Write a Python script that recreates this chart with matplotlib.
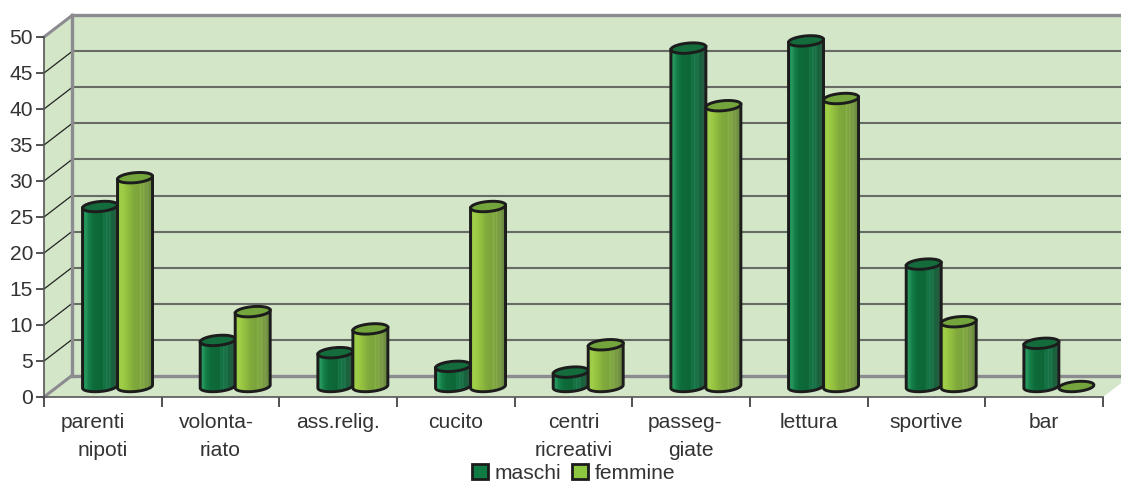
import matplotlib
matplotlib.use('Agg')
import matplotlib.pyplot as plt
import numpy as np
from matplotlib.colors import LinearSegmentedColormap
from matplotlib.patches import Patch, Polygon

plt.rcParams['font.family'] = ['Liberation Sans', 'DejaVu Sans']

line1 = ['parenti', 'volonta-', 'ass.relig.', 'cucito', 'centri', 'passeg-', 'lettura', 'sportive', 'bar']
line2 = ['nipoti', 'riato', '', '', 'ricreativi', 'giate', '', '', '']
maschi = [25, 6.4, 4.7, 2.8, 2, 47, 48, 17, 6]
femmine = [29, 10.4, 8, 25, 5.8, 39, 40, 9, 0]
yticks = [0, 5, 10, 15, 20, 25, 30, 35, 40, 45, 50]

W, H = 1121, 484
TXT = '#333333'
GREY = '#8b8b90'
WALL = '#d3e6c8'
FS = 15.1

# front plane of the 3d box, in pixels of the reference
fig = plt.figure(figsize=(W / 100, H / 100), dpi=100)
ax = fig.add_axes([44 / W, 1 - 397 / H, (1103 - 44) / W, 360 / H])
ax.set_xlim(0, 9)
ax.set_ylim(0, 50)
ax.patch.set_visible(False)
for s in ['top', 'right']:
    ax.spines[s].set_visible(False)
for s in ['left', 'bottom']:
    ax.spines[s].set_color('#555555')
    ax.spines[s].set_linewidth(1.2)
    ax.spines[s].set_zorder(3)

# depth of the box in axis units
px_x = 9 / 1059
px_y = 50 / 360
dx = 28 * px_x
dy = 21.5 * px_y
right = 9 + 30 * px_x

ax.add_patch(Polygon([(0, 0), (dx, dy), (right, dy), (right, 50 + dy), (dx, 50 + dy), (0, 50)],
                     closed=True, fc=WALL, ec='none', clip_on=False, zorder=0))
ax.add_patch(Polygon([(0, 0), (dx, dy), (9 + dx, dy), (9, 0)], closed=True, fc=WALL, ec='none',
                     clip_on=False, zorder=0))

for v in yticks:
    edge = v in (0, 50)
    c = GREY if edge else '#676b63'
    lw = 2.4 if edge else 1.5
    ax.plot([dx, right], [v + dy, v + dy], color=c, lw=lw, clip_on=False, zorder=1)
    ax.plot([0, dx], [v, v + dy], color=GREY if edge else '#222222', lw=2.2 if edge else 0.9,
            clip_on=False, zorder=1)
ax.plot([dx, dx], [dy, 50 + dy], color=GREY, lw=2.4, clip_on=False, zorder=1)

dark = LinearSegmentedColormap.from_list('dark', [
    (0, '#17824a'), (0.07, '#2a9c60'), (0.16, '#14804a'), (0.3, '#0e6c3a'), (0.55, '#0d6636'),
    (0.6, '#1a7a4a'), (0.64, '#0f6a3a'), (0.68, '#26845a'), (0.72, '#11683c'), (0.76, '#247a50'),
    (0.82, '#14633c'), (0.9, '#225f40'), (1, '#2a5a42')])
light = LinearSegmentedColormap.from_list('light', [
    (0, '#8fc440'), (0.1, '#a3d04a'), (0.25, '#93c23f'), (0.45, '#80aa3c'), (0.6, '#7ba53c'),
    (0.65, '#8bb24b'), (0.69, '#78a03c'), (0.74, '#8aad4e'), (0.79, '#76993f'), (0.84, '#7e9f4a'),
    (0.92, '#6c8c40'), (1, '#66863f')])
grad = np.linspace(0, 1, 128).reshape(1, -1)

bw = 35 * px_x
eh = 10 * px_y
tilt = 3 * px_y
ox = 14.7 * px_x
oy = 10.5 * px_y
OUTLINE = '#1c1c1c'
theta = np.linspace(0, 2 * np.pi, 73)


def cylinder(x0, value, cmap, top_color, z):
    xc = x0 + ox + bw / 2
    ex = xc + bw / 2 * np.cos(theta)
    ey = eh / 2 * np.sin(theta) + tilt * np.cos(theta) / 2
    if value > 0:
        lower = theta[36:73]
        bx = xc + bw / 2 * np.cos(lower)
        by = oy + eh / 2 * np.sin(lower) + tilt * np.cos(lower) / 2
        tx = [xc + bw / 2, xc - bw / 2]
        ty = [value + oy + tilt / 2, value + oy - tilt / 2]
        body = Polygon(np.column_stack([np.r_[bx, tx], np.r_[by, ty]]), closed=True, fc='none', ec=OUTLINE,
                       lw=2.1, clip_on=False, zorder=z + 0.1)
        im = ax.imshow(grad, cmap=cmap, extent=(xc - bw / 2, xc + bw / 2, oy - eh, value + oy + eh),
                       aspect='auto', zorder=z, interpolation='bilinear')
        ax.add_patch(body)
        im.set_clip_path(body)
    ax.add_patch(Polygon(np.column_stack([ex, value + oy + ey]), closed=True, fc=top_color, ec=OUTLINE, lw=2.1,
                         clip_on=False, zorder=z + 0.2))


for i in range(len(maschi)):
    center = i + 0.5
    cylinder(center - bw, maschi[i], dark, '#146b3b', 4)
    cylinder(center, femmine[i], light, '#74a53c', 5)

ax.set_xlim(0, 9)
ax.set_ylim(0, 50)

ax.set_yticks(yticks)
ax.set_xticks(range(10))
ax.set_xticklabels([])
ax.tick_params(axis='y', length=6, width=1.2, color='#333333', labelcolor=TXT, labelsize=FS, pad=2)
ax.tick_params(axis='x', length=7, width=1.2, color='#333333')

# the two-line labels are not centred on their slot in the original
nudge1 = [-10, -4, 0, 0, 0, -6, 0, 0, 0]
for i, (a, b) in enumerate(zip(line1, line2)):
    px = i + 0.5
    ax.annotate(a, (px, 0), xytext=(nudge1[i] * 0.72, -25.5 * 0.72), textcoords='offset points', ha='center',
                va='center', color=TXT, fontsize=FS, annotation_clip=False)
    ax.annotate(b, (px, 0), xytext=(0, -53 * 0.72), textcoords='offset points', ha='center', va='center',
                color=TXT, fontsize=FS, annotation_clip=False)

handles = [Patch(fc='#0f7a41', ec=OUTLINE, lw=2, label='maschi'),
           Patch(fc='#8cc63f', ec=OUTLINE, lw=2, label='femmine')]
leg = fig.legend(handles=handles, loc='lower center', bbox_to_anchor=(573.5 / W, -0.006), ncols=2, frameon=True,
                 fontsize=FS, labelcolor=TXT, handlelength=0.75, handleheight=0.75, handletextpad=0.3,
                 columnspacing=0.55, borderpad=0.2, borderaxespad=0, fancybox=False, edgecolor='none',
                 facecolor='white', framealpha=1)
leg.set_zorder(10)

fig.savefig('out.png', dpi=100)
